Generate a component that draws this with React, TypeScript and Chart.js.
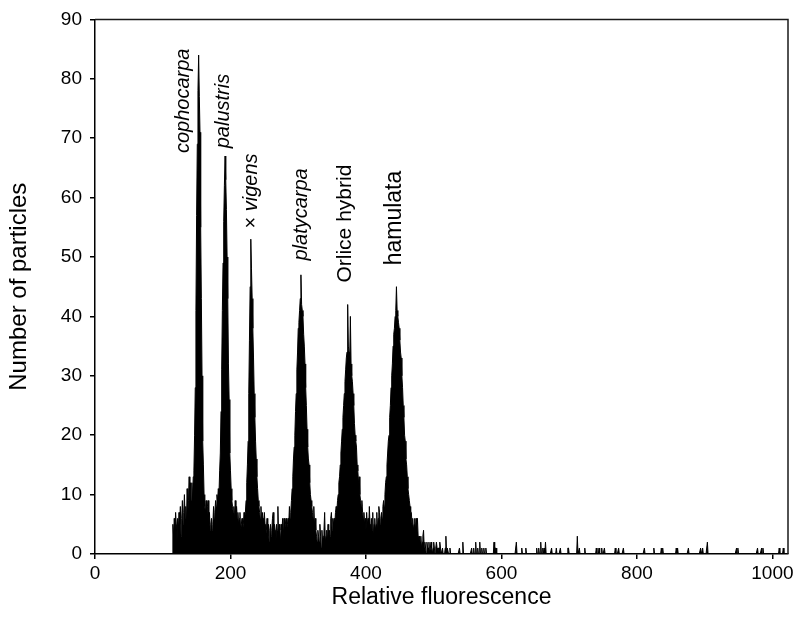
import { useEffect, useRef } from "react";
import { Chart, registerables } from "chart.js";

Chart.register(...registerables);

// ---- data ----
const CHANNEL_COUNT = 1024;
const denseStart = 115; // first channel of the dense part
const denseCounts = [
  5, 3, 6, 4, 7, 5, 2, 6, 4, 7, // 115
  5, 8, 3, 6, 9, 5, 7, 10, 6, 8, // 125
  5, 11, 7, 9, 13, 8, 12, 9, 12, 9, // 135
  13, 14, 20, 28, 41, 57, 69, 78, 84, 77, // 145
  71, 55, 43, 30, 19, 15, 10, 8, 7, 9, // 155
  6, 8, 9, 5, 7, 4, 5, 6, 4, 5, // 165
  8, 6, 7, 9, 8, 10, 9, 11, 10, 14, // 175
  17, 24, 31, 41, 49, 56, 62, 67, 63, 58, // 185
  50, 43, 32, 26, 17, 14, 11, 9, 8, 7, // 195
  8, 6, 9, 7, 8, 6, 7, 5, 6, 7, // 205
  4, 5, 6, 4, 5, 7, 6, 7, 9, 12, // 215
  15, 19, 27, 36, 45, 53, 48, 43, 38, 33, // 225
  27, 23, 19, 16, 13, 11, 9, 8, 7, 6, // 235
  8, 5, 7, 6, 4, 7, 5, 3, 4, 6, // 245
  3, 5, 2, 4, 5, 3, 4, 6, 7, 3, // 255
  5, 4, 2, 5, 4, 8, 3, 5, 4, 2, // 265
  5, 4, 6, 3, 6, 4, 5, 6, 4, 5, // 275
  6, 5, 8, 6, 7, 9, 11, 13, 16, 18, // 285
  20, 24, 27, 31, 34, 38, 39, 41, 43, 47, // 295
  42, 41, 40, 37, 35, 32, 28, 25, 21, 18, // 305
  16, 15, 12, 10, 9, 8, 7, 6, 8, 5, // 315
  6, 4, 3, 2, 4, 3, 2, 5, 3, 1, // 325
  4, 2, 3, 4, 7, 2, 3, 4, 2, 5, // 335
  3, 4, 3, 6, 7, 4, 6, 5, 6, 5, // 345
  7, 8, 7, 9, 10, 12, 13, 15, 17, 19, // 355
  21, 23, 25, 27, 29, 31, 33, 34, 42, 35, // 365
  34, 33, 40, 32, 30, 29, 27, 25, 22, 20, // 375
  19, 18, 15, 14, 12, 13, 10, 9, 8, 9, // 385
  7, 6, 7, 5, 6, 4, 7, 5, 6, 4, // 395
  8, 5, 3, 6, 4, 7, 3, 5, 6, 4, // 405
  5, 7, 4, 6, 8, 7, 5, 6, 7, 6, // 415
  8, 9, 8, 10, 12, 13, 15, 17, 19, 20, // 425
  23, 25, 28, 30, 32, 35, 37, 38, 40, 41, // 435
  45, 41, 40, 39, 38, 36, 34, 33, 30, 28, // 445
  25, 23, 20, 19, 16, 15, 13, 11, 10, 9, // 455
  8, 7, 7, 5, 6, 4, 5, 6, 4, 6, // 465
  5, 6, 3, 2, 3, 2, 3, 1, 2, 3, // 475
  4, 1, 2, 1, 0, 2, 1, 1, 2, 0, // 485
  1, 2, 1, 0, 1, 2, 1, 0, 1, 2, // 495
  1, 0, 1, 1, 2, 1, 0, 0, 1, 0, // 505
  0, 0, 1, 3, 0, 1, // 515
];
const sparseChannels = [
  521, 524, 538, 543, 556, 559, 562, 565, 568, 571, 574, 577, 589, 591, 592,
  622, 630, 636, 652, 655, 658, 661, 663, 665, 674, 681, 687, 698, 699, 712,
  715, 723, 740, 744, 748, 752, 768, 773, 780, 811, 825, 836, 838, 858, 860,
  876, 894, 897, 904, 947, 949, 978, 984, 986, 1010, 1016,
];
const sparseCounts = [
  1, 1, 1, 2, 1, 1, 2, 1, 2, 1, 1, 1, 2, 1, 1,
  2, 1, 1, 1, 1, 2, 1, 1, 2, 1, 1, 1, 1, 1, 3,
  1, 1, 1, 1, 1, 1, 1, 1, 1, 1, 1, 1, 1, 1, 1,
  1, 1, 1, 2, 1, 1, 1, 1, 1, 1, 1,
];

const xTickValues = [0, 200, 400, 600, 800, 1000];
const yTickValues = [0, 10, 20, 30, 40, 50, 60, 70, 80, 90];

// peak annotations (text, anchored in data units at the bottom end of the rotated text)
const peakNames = ["cophocarpa", "palustris", "vigens", "platycarpa", "Orlice hybrid", "hamulata"];
const peakPrefixes = ["", "", "\u00d7 ", "", "", ""];
const peakItalic = [true, true, true, true, false, false];
const peakLabelChannel = [130, 190, 231.5, 305, 370, 442.5];
const peakLabelValue = [67.5, 68.3, 54.8, 49.4, 45.7, 48.6];
const peakLabelSize = [20, 20, 20, 20, 21, 23];

const FONT = '"Liberation Sans", Arial, Helvetica, sans-serif';

function buildPoints() {
  const counts = new Array(CHANNEL_COUNT).fill(0);
  denseCounts.forEach((c, i) => {
    counts[denseStart + i] = c;
  });
  sparseChannels.forEach((ch, i) => {
    counts[ch] = sparseCounts[i];
  });
  return counts.map((c, i) => ({ x: i, y: c }));
}

const framePlugin = {
  id: "frame",
  afterDraw(chart: any) {
    const { ctx, chartArea } = chart;
    ctx.save();
    ctx.strokeStyle = "#1a1a1a";
    ctx.lineWidth = 1.5;
    ctx.beginPath();
    ctx.moveTo(chartArea.left, chartArea.top);
    ctx.lineTo(chartArea.right, chartArea.top);
    ctx.lineTo(chartArea.right, chartArea.bottom);
    ctx.stroke();
    ctx.restore();
  },
};

const peakLabelPlugin = {
  id: "peakLabels",
  afterDatasetsDraw(chart: any) {
    const { ctx } = chart;
    const xs = chart.scales.x;
    const ys = chart.scales.y;
    ctx.save();
    ctx.fillStyle = "#000";
    peakNames.forEach((name, i) => {
      const px = xs.getPixelForValue(peakLabelChannel[i]);
      const py = ys.getPixelForValue(peakLabelValue[i]);
      const size = peakLabelSize[i];
      ctx.save();
      ctx.translate(px, py);
      ctx.rotate(-Math.PI / 2);
      ctx.textBaseline = "middle";
      ctx.textAlign = "left";
      let offset = 0;
      const prefix = peakPrefixes[i];
      if (prefix) {
        ctx.font = `${size}px ${FONT}`;
        ctx.fillText(prefix, 0, 0);
        offset = ctx.measureText(prefix).width;
      }
      ctx.font = `${peakItalic[i] ? "italic " : ""}${size}px ${FONT}`;
      ctx.fillText(name, offset, 0);
      ctx.restore();
    });
    ctx.restore();
  },
};

export default function App() {
  const canvasRef = useRef<HTMLCanvasElement | null>(null);

  useEffect(() => {
    const canvas = canvasRef.current;
    if (!canvas) return;
    const chart = new Chart(canvas, {
      type: "line",
      data: {
        datasets: [
          {
            data: buildPoints(),
            fill: "origin",
            backgroundColor: "#000",
            borderColor: "#000",
            borderWidth: 1,
            pointRadius: 0,
            tension: 0,
          },
        ],
      },
      options: {
        responsive: false,
        animation: false,
        devicePixelRatio: 1,
        layout: { padding: { top: 15, right: 9, left: 0, bottom: 0 } },
        plugins: { legend: { display: false }, tooltip: { enabled: false } },
        scales: {
          x: {
            type: "linear",
            min: 0,
            max: 1023,
            afterBuildTicks: (scale: any) => {
              scale.ticks = xTickValues.map((v) => ({ value: v }));
            },
            afterFit: (scale: any) => {
              scale.height = 73;
            },
            ticks: {
              color: "#000",
              font: { family: FONT, size: 19 },
              padding: 3,
              maxRotation: 0,
              callback: (v: any) => String(v),
            },
            grid: {
              display: true,
              drawOnChartArea: false,
              drawTicks: true,
              tickLength: 5,
              color: "#000",
              lineWidth: 1.5,
            },
            border: { display: true, color: "#000", width: 1.5 },
            title: {
              display: true,
              text: "Relative fluorescence",
              color: "#000",
              font: { family: FONT, size: 23 },
              padding: { top: 0, bottom: 16 },
            },
          },
          y: {
            type: "linear",
            min: 0,
            max: 90,
            afterBuildTicks: (scale: any) => {
              scale.ticks = yTickValues.map((v) => ({ value: v }));
            },
            afterFit: (scale: any) => {
              scale.width = 95;
            },
            ticks: {
              color: "#000",
              font: { family: FONT, size: 19 },
              padding: 8,
              callback: (v: any) => String(v),
            },
            grid: {
              display: true,
              drawOnChartArea: false,
              drawTicks: true,
              tickLength: 5,
              color: "#000",
              lineWidth: 1.5,
            },
            border: { display: true, color: "#000", width: 1.5 },
            title: {
              display: true,
              text: "Number of particles",
              color: "#000",
              font: { family: FONT, size: 24 },
              padding: { top: 5, bottom: 0 },
            },
          },
        },
      },
      plugins: [framePlugin, peakLabelPlugin],
    } as any);
    return () => chart.destroy();
  }, []);

  return (
    <div style={{ position: "absolute", left: 0, top: 0, width: 797, height: 627, background: "#fff" }}>
      <canvas ref={canvasRef} width={797} height={627} style={{ display: "block" }} />
    </div>
  );
}
